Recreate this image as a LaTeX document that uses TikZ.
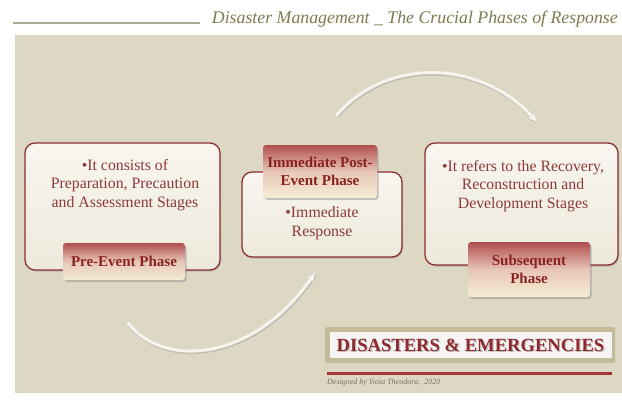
\documentclass[tikz,border=0pt]{standalone}
\usepackage{fontspec}
\setmainfont{Liberation Serif}
\usetikzlibrary{shadows,arrows.meta}
\definecolor{bgpanel}{HTML}{DDD8C4}
\definecolor{hdrline}{HTML}{A9A892}
\definecolor{hdrtext}{HTML}{7F7B50}
\definecolor{boxline}{HTML}{8C2F2F}
\definecolor{boxtext}{HTML}{8E3A3A}
\definecolor{tabtext}{HTML}{8A2222}
\definecolor{tabtop}{HTML}{B04E4E}
\definecolor{tabmid}{HTML}{E8C6B8}
\definecolor{tabbot}{HTML}{F4EDD3}
\definecolor{bodytop}{HTML}{F8F6EF}
\definecolor{bodybot}{HTML}{EDE9DC}
\definecolor{arrowc}{HTML}{F6F4EE}
\definecolor{bannerout}{HTML}{C3BC9A}
\definecolor{bannerin}{HTML}{F7F5F3}
\definecolor{bannertext}{HTML}{8E2A2E}
\definecolor{redline}{HTML}{A53636}
\definecolor{credit}{HTML}{77745E}
\tikzset{
  bodybox/.style={draw=boxline, line width=1.3pt, rounded corners=10pt,
    top color=bodytop, bottom color=bodybot, inner sep=0pt,
    drop shadow={shadow xshift=1pt, shadow yshift=-1.5pt, opacity=0.35}},
  tabbox/.style={rounded corners=3pt, inner sep=0pt,
    top color=tabtop, bottom color=tabbot, middle color=tabmid,
    drop shadow={shadow xshift=1.5pt, shadow yshift=-2pt, opacity=0.45},
    text=tabtext, font=\fontsize{15}{18}\selectfont\bfseries, align=center},
  bodytext/.style={text=boxtext, font=\fontsize{15.8}{18.5}\selectfont, align=center},
  flowarrow/.style={draw=arrowc, line width=3pt, line cap=round,
    -{Stealth[length=9pt,width=8pt]},
    preaction={draw=black!45, opacity=0.35, line width=3.5pt, transform canvas={xshift=0.8pt,yshift=-1.2pt}}}
}
\begin{document}
\begin{tikzpicture}[x=1pt,y=-1pt]
\useasboundingbox (0,0) rectangle (622,402);
\fill[white] (0,0) rectangle (622,402);
% background panel
\fill[bgpanel] (15,35) rectangle (622,393);
% header
\draw[hdrline, line width=1.2pt] (13,23) -- (200,23);
\node[anchor=base east, text=hdrtext, font=\fontsize{17.8}{20}\selectfont\itshape, inner sep=0pt] (hdr) at (618,23)
  {Disaster Management \_ The Crucial Phases of Response};
% arrows
\coordinate (a1s) at (337,115);
\coordinate (a1e) at (537,122);
\draw[flowarrow] (a1s) .. controls (385,58) and (480,58) .. (a1e);
\coordinate (a2s) at (128,323);
\coordinate (a2e) at (315,273);
\draw[flowarrow] (a2s) .. controls (165,370) and (255,360) .. (a2e);
% box 1
\node[bodybox, minimum width=195pt, minimum height=127pt] (b1) at (122.5,206.5) {};
\node[bodytext] (t1) at (125,185) {•It consists of\\Preparation, Precaution\\and Assessment Stages};
\node[tabbox, minimum width=122pt, minimum height=37pt] (p1) at (124,261.5) {Pre-Event Phase};
% box 2
\node[bodybox, minimum width=160pt, minimum height=85pt] (b2) at (322,214.5) {};
\node[bodytext] (t2) at (322,223) {•Immediate\\Response};
\node[tabbox, minimum width=114pt, minimum height=53pt] (p2) at (320,171.5) {Immediate Post-\\Event Phase};
% box 3
\node[bodybox, minimum width=193pt, minimum height=122pt] (b3) at (521.5,204) {};
\node[bodytext] (t3) at (523,186) {•It refers to the Recovery,\\Reconstruction and\\Development Stages};
\node[tabbox, minimum width=122pt, minimum height=55pt] (p3) at (529,269.5) {Subsequent\\Phase};
% banner
\node[fill=bannerout, rounded corners=2pt, minimum width=290pt, minimum height=36pt, inner sep=0pt] (bo) at (470,345) {};
\node[fill=bannerin, minimum width=282pt, minimum height=26pt, inner sep=0pt] (bi) at (471,345) {};
\node[text=black!25, font=\fontsize{18.6}{24}\selectfont\bfseries, inner sep=0pt] (bts) at (471.6,346.8) {DISASTERS \& EMERGENCIES};
\node[text=bannertext, font=\fontsize{18.6}{24}\selectfont\bfseries, inner sep=0pt] (bt) at (470.5,345.5) {DISASTERS \& EMERGENCIES};
\coordinate (rl1) at (327,373);
\coordinate (rl2) at (612,373);
\draw[redline, line width=3pt] (rl1) -- (rl2);
\node[anchor=west, text=credit, font=\fontsize{8}{9}\selectfont\itshape, inner sep=0pt] (cr) at (327,383) {Designed by Yioia Theodora,\ \ 2020};
\end{tikzpicture}
\end{document}
